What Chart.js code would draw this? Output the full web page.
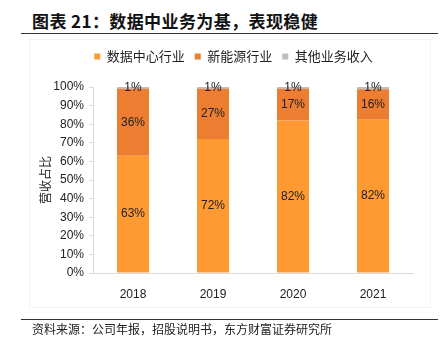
<!DOCTYPE html>
<html>
<head>
<meta charset="utf-8">
<script src="https://cdn.jsdelivr.net/npm/chart.js@4.4.0/dist/chart.umd.min.js"></script>
<style>
  body { margin: 0; background: #fff; width: 442px; height: 340px; position: relative; overflow: hidden; }
  .title { position: absolute; left: 32px; top: 9px; font: bold 17px "Noto Sans CJK SC", sans-serif; color: #111; line-height: 24px; white-space: nowrap; letter-spacing: 0.4px; }
  .rule { position: absolute; left: 21px; width: 417px; height: 1px; background: #333; }
  .box { position: absolute; left: 30px; top: 40px; width: 400px; height: 267px; outline: 1px solid #f3f3f3; }
  .footer { position: absolute; left: 32px; top: 321px; font: 12px "Noto Sans CJK SC", sans-serif; color: #222; line-height: 16px; white-space: nowrap; }
</style>
</head>
<body>
<div class="title">图表 21：数据中业务为基，表现稳健</div>
<div class="rule" style="top:33px"></div>
<div class="box"><canvas id="shareChart"></canvas></div>
<div class="rule" style="top:319px"></div>
<div class="footer">资料来源：公司年报，招股说明书，东方财富证券研究所</div>

<script>
const years = ['2018', '2019', '2020', '2021'];
const dataCenter = [63, 72, 82, 82.4];
const newEnergy = [36, 27, 17, 16.4];
const otherBiz = [1, 1, 1, 1.2];
const yTicks = [0, 10, 20, 30, 40, 50, 60, 70, 80, 90, 100];

document.addEventListener('DOMContentLoaded', function () {
  Chart.defaults.font.family = '"Liberation Sans", Arial, "Noto Sans CJK SC", sans-serif';
  Chart.defaults.color = '#222';

  // segment labels centred in each stacked piece
  const segLabels = {
    id: 'segLabels',
    afterDatasetsDraw(chart) {
      const ctx = chart.ctx;
      ctx.save();
      ctx.font = '12px "Liberation Sans", Arial, sans-serif';
      ctx.fillStyle = '#222';
      ctx.textAlign = 'center';
      ctx.textBaseline = 'middle';
      chart.data.datasets.forEach(function (ds, i) {
        chart.getDatasetMeta(i).data.forEach(function (bar, j) {
          const y = (bar.y + bar.base) / 2;
          ctx.fillText(Math.round(ds.data[j]) + '%', bar.x, y);
        });
      });
      ctx.restore();
    }
  };

  // extra room under the legend, and nudge it right to sit where the original does
  const legendGap = {
    id: 'legendGap',
    beforeInit(chart) {
      const fit = chart.legend.fit;
      chart.legend.fit = function () { fit.call(this); this.height += 14; };
    },
    afterLayout(chart) {
      chart.legend.left += 8;
      chart.legend.right += 8;
    }
  };

  new Chart(document.getElementById('shareChart'), {
    type: 'bar',
    data: {
      labels: years,
      datasets: [
        { label: '数据中心行业', data: dataCenter, backgroundColor: '#FF9A33' },
        { label: '新能源行业', data: newEnergy, backgroundColor: '#ED7D31' },
        { label: '其他业务收入', data: otherBiz, backgroundColor: '#BFBFBF' }
      ]
    },
    options: {
      responsive: true,
      maintainAspectRatio: false,
      animation: false,
      datasets: { bar: { barPercentage: 0.4, categoryPercentage: 1.0 } },
      layout: { padding: { left: 8, right: 17, top: 0, bottom: 0 } },
      plugins: {
        legend: {
          position: 'top',
          labels: {
            boxWidth: 6, boxHeight: 6, padding: 10,
            color: '#222',
            font: { size: 13, family: '"Noto Sans CJK SC", sans-serif' }
          }
        },
        tooltip: { enabled: false }
      },
      scales: {
        x: {
          stacked: true,
          grid: { display: false },
          border: { display: true, color: '#D9D9D9' },
          ticks: { font: { size: 12 }, color: '#222', padding: 6 },
          afterFit: function (s) { s.height = 34; }
        },
        y: {
          stacked: true,
          min: 0, max: 100,
          afterBuildTicks: function (s) { s.ticks = yTicks.map(v => ({ value: v })); },
          grid: { display: true, drawOnChartArea: false, drawTicks: true, tickLength: 4, color: '#D9D9D9' },
          border: { display: true, color: '#D9D9D9' },
          ticks: { font: { size: 12 }, color: '#222', padding: 5, callback: v => v + '%' },
          title: { display: true, text: '营收占比', color: '#222', font: { size: 12, family: '"Noto Sans CJK SC", sans-serif' }, padding: { top: 0, bottom: 4 } },
          afterFit: function (s) { s.width = 55; }
        }
      }
    },
    plugins: [segLabels, legendGap]
  });
});
</script>
</body>
</html>
